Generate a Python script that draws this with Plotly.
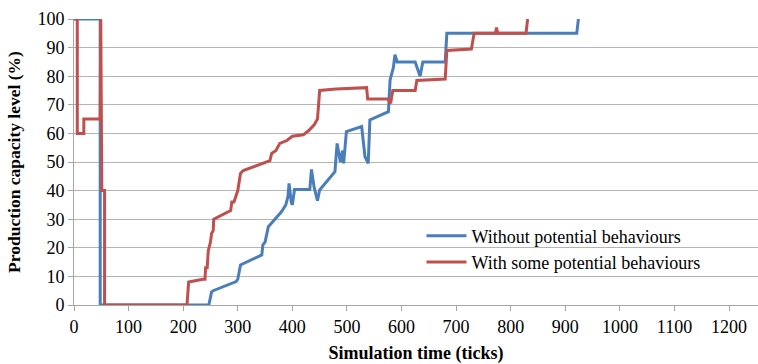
import plotly.graph_objects as go

# Without potential behaviours (blue)
without_x = [0, 48, 48, 247, 252, 255, 297, 300, 305, 344, 346, 350, 356, 380, 388, 392, 394, 398, 400, 404,
             432, 435, 440, 446, 450, 469, 478, 482, 488, 492, 494, 499, 527, 533, 539, 542, 563, 576, 579,
             582, 585, 588, 592, 625, 634, 639, 680, 683, 921, 924]
without_y = [100, 100, 0, 0, 4.5, 5, 8.2, 9, 14, 17.5, 21, 22, 27.4, 32.6, 35, 38, 42.5, 36, 35, 40.4,
             40.4, 47.4, 41, 36.5, 40.2, 44.3, 46.6, 56.5, 50, 54, 49.5, 60.6, 62.4, 51.9, 49.5, 64.7, 66.4, 67.6, 78.7,
             81, 83, 87.5, 85, 85, 80, 85, 85, 95, 95, 100]

# With some potential behaviours (red)
with_x = [0, 6, 6, 18, 18, 48, 49, 51, 56, 56, 207, 210, 236, 240, 241, 244, 246, 250, 252, 255, 256,
          287, 289, 293, 300, 305, 310, 345, 359, 362, 370, 377, 390, 400, 420, 430, 440, 446, 450, 480,
          530, 536, 538, 575, 580, 584, 625, 628, 680, 683, 728, 733, 772, 774, 776, 828, 831]
with_y = [100, 100, 60, 60, 65, 65, 100, 40, 40, 0, 0, 8, 9, 9, 13, 13, 19, 22, 25, 26, 30,
          33, 36, 36, 40, 46, 47, 49.5, 50.5, 53, 54, 56.5, 57.5, 59, 59.5, 61, 63, 65, 75, 75.5,
          76, 76, 72, 72, 70.5, 75, 75, 78.5, 79, 89, 89.5, 95, 95, 97, 95, 95, 100]

x_ticks = list(range(0, 1300, 100))
y_ticks = list(range(0, 110, 10))

BLUE = "#4A7EBB"
RED = "#C0504D"
FONT = "Liberation Serif"

fig = go.Figure()
fig.add_trace(go.Scatter(x=without_x, y=without_y, mode="lines", name="Without potential behaviours",
                         line=dict(color=BLUE, width=3), legendgroup="a"))
fig.add_trace(go.Scatter(x=with_x, y=with_y, mode="lines", name="With some potential behaviours",
                         line=dict(color=RED, width=3), legendgroup="b"))

fig.update_layout(
    width=758, height=364,
    margin=dict(l=74, r=0, t=19, b=59, autoexpand=False),
    paper_bgcolor="white", plot_bgcolor="white",
    font=dict(family=FONT, size=18, color="black"),
    showlegend=True,
    legend=dict(x=0.508, y=0.196, xanchor="left", yanchor="middle", bgcolor="rgba(0,0,0,0)",
                font=dict(family=FONT, size=18, color="black"), tracegroupgap=0, itemwidth=40),
    xaxis=dict(range=[0, 1253], tickvals=x_ticks, showgrid=False, showline=True, linecolor="#a6a6a6",
               linewidth=1, ticks="outside", ticklen=5, tickcolor="#a6a6a6", zeroline=False,
               tickfont=dict(family=FONT, size=18), automargin=False,
               title=dict(text="<b>Simulation time (ticks)</b>", font=dict(family=FONT, size=18), standoff=12)),
    yaxis=dict(range=[0, 100], tickvals=y_ticks, showgrid=True, gridcolor="#b5b5b5", gridwidth=1.3,
               showline=True, linecolor="#a6a6a6", linewidth=1, ticks="outside", ticklen=5,
               tickcolor="#a6a6a6", zeroline=False, tickfont=dict(family=FONT, size=18), automargin=False,
               title=dict(text="<b>Production capacity level (%)</b>", font=dict(family=FONT, size=17.5), standoff=12)),
)

fig.write_html("out.html", config={"displayModeBar": False},
               post_script="document.body.style.margin='0';")
